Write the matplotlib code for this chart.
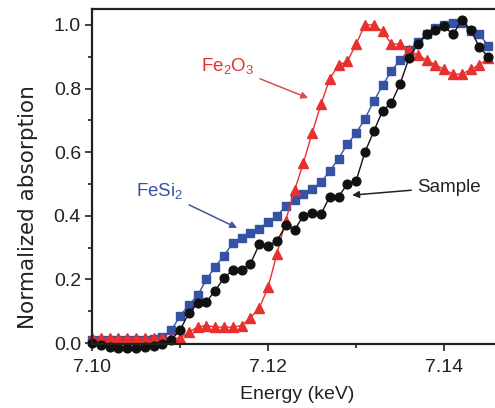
import matplotlib
matplotlib.use("Agg")
import matplotlib.pyplot as plt
from matplotlib.ticker import MultipleLocator

# Energy grid (keV) and normalized absorption
energy = [7.100, 7.101, 7.102, 7.103, 7.104, 7.105, 7.106, 7.107, 7.108, 7.109,
          7.110, 7.111, 7.112, 7.113, 7.114, 7.115, 7.116, 7.117, 7.118, 7.119,
          7.120, 7.121, 7.122, 7.123, 7.124, 7.125, 7.126, 7.127, 7.128, 7.129,
          7.130, 7.131, 7.132, 7.133, 7.134, 7.135, 7.136, 7.137, 7.138, 7.139,
          7.140, 7.141, 7.142, 7.143, 7.144, 7.145]

fesi2 = [0.010, 0.010, 0.010, 0.010, 0.010, 0.010, 0.010, 0.012, 0.020, 0.040,
         0.085, 0.120, 0.150, 0.200, 0.240, 0.275, 0.315, 0.330, 0.345, 0.360,
         0.380, 0.400, 0.430, 0.450, 0.470, 0.485, 0.505, 0.540, 0.580, 0.625,
         0.660, 0.705, 0.760, 0.810, 0.855, 0.890, 0.920, 0.945, 0.970, 0.990,
         1.000, 1.005, 1.005, 0.980, 0.970, 0.935]

fe2o3 = [0.015, 0.015, 0.015, 0.015, 0.015, 0.015, 0.015, 0.015, 0.015, 0.015,
         0.015, 0.035, 0.050, 0.055, 0.050, 0.050, 0.050, 0.055, 0.080, 0.110,
         0.175, 0.280, 0.385, 0.480, 0.565, 0.660, 0.750, 0.830, 0.875, 0.885,
         0.940, 1.000, 1.000, 0.980, 0.940, 0.940, 0.920, 0.905, 0.890, 0.875,
         0.860, 0.845, 0.845, 0.860, 0.875, 0.895]

sample = [0.000, -0.005, -0.012, -0.015, -0.015, -0.015, -0.012, -0.010, -0.003, 0.010,
          0.040, 0.095, 0.125, 0.130, 0.165, 0.205, 0.230, 0.230, 0.250, 0.310,
          0.305, 0.320, 0.370, 0.355, 0.400, 0.410, 0.405, 0.460, 0.460, 0.500,
          0.510, 0.600, 0.665, 0.730, 0.755, 0.815, 0.895, 0.940, 0.970, 0.985,
          0.995, 0.970, 1.015, 0.985, 0.930, 0.900]

red = "#e8312f"
blue = "#3553a5"
ink = "#222222"

plt.rcParams["font.family"] = ["Liberation Sans", "DejaVu Sans"]

fig = plt.figure(figsize=(4.95, 4.08), dpi=100)
ax = fig.add_axes([92 / 495, 64 / 408, 405 / 495, 335 / 408])

ax.plot(energy, fesi2, color=blue, lw=1, marker="s", ms=6.3, mec=blue, clip_on=False)
ax.plot(energy, fe2o3, color=red, lw=1, marker="^", ms=7.5, mec=red, clip_on=False)
ax.plot(energy, sample, color="#111111", lw=1, marker="o", ms=6.3, clip_on=False)

ax.set_xlim(7.100, 7.146)
ax.set_ylim(-0.003, 1.05)

ax.xaxis.set_major_locator(MultipleLocator(0.02))
ax.xaxis.set_minor_locator(MultipleLocator(0.01))
ax.yaxis.set_major_locator(MultipleLocator(0.2))
ax.yaxis.set_minor_locator(MultipleLocator(0.1))
ax.xaxis.set_major_formatter(plt.FormatStrFormatter("%.2f"))
ax.yaxis.set_major_formatter(plt.FormatStrFormatter("%.1f"))

ax.tick_params(which="major", direction="out", length=5, width=1.2,
               labelsize=14, color=ink, labelcolor=ink)
ax.tick_params(which="minor", direction="out", length=3, width=1.2, color=ink)
ax.tick_params(axis="x", which="major", pad=6)
ax.tick_params(axis="y", which="major", pad=3)

for side in ["left", "bottom", "top"]:
    ax.spines[side].set_linewidth(1.6)
    ax.spines[side].set_color(ink)
ax.spines["right"].set_visible(False)

ax.text(-0.158, 0.409, "Normalized absorption", transform=ax.transAxes, rotation=90,
        ha="center", va="center", fontsize=15.5, color=ink, family="DejaVu Sans")
ax.text(0.506, -0.152, "Energy (keV)", transform=ax.transAxes,
        ha="center", va="center", fontsize=14, color=ink)

# labels with arrows
ax.annotate(r"$\mathregular{Fe_2O_3}$", xy=(7.12455, 0.770), xytext=(7.11545, 0.871),
            ha="center", va="center", fontsize=13.5, color=red,
            arrowprops=dict(arrowstyle="-|>", color="#d65050", lw=1.1,
                            mutation_scale=10, shrinkA=2, shrinkB=0))
ax.annotate(r"$\mathregular{FeSi_2}$", xy=(7.11648, 0.362), xytext=(7.10773, 0.478),
            ha="center", va="center", fontsize=13.5, color=blue,
            arrowprops=dict(arrowstyle="-|>", color="#45559a", lw=1.1,
                            mutation_scale=10, shrinkA=2, shrinkB=0))
ax.annotate("Sample", xy=(7.12955, 0.465), xytext=(7.1405, 0.49),
            ha="center", va="center", fontsize=13.5, color=ink,
            arrowprops=dict(arrowstyle="-|>", color=ink, lw=1.1,
                            mutation_scale=10, shrinkA=2, shrinkB=0))

fig.savefig("out.png", dpi=100)
